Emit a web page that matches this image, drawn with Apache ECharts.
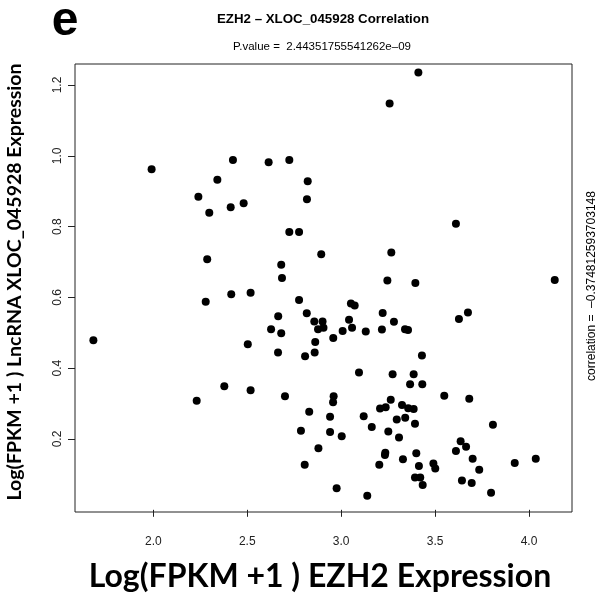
<!DOCTYPE html>
<html>
<head>
<meta charset="utf-8">
<script src="https://cdn.jsdelivr.net/npm/echarts@6/dist/echarts.min.js"></script>
<style>
html,body{margin:0;padding:0;background:#fff;}
#chart{width:606px;height:596px;}
</style>
</head>
<body>
<div id="chart"></div>
<script>
// EZH2 expression (x) and XLOC_045928 expression (y)
const ezh2 = [
  1.991, 2.424, 2.614, 2.724, 2.341, 2.822, 2.240, 2.818, 2.412, 2.481,
  2.298, 2.724, 2.776, 2.894, 2.287, 2.681, 2.685, 3.411, 3.258, 3.611,
  3.267, 3.246, 3.395, 4.137, 2.279, 2.415, 2.518, 2.776, 2.665, 2.817,
  2.857, 2.901, 2.627, 2.681, 2.877, 2.906, 1.681, 2.503, 2.862, 2.664,
  2.808, 2.859, 2.378, 2.518, 2.231, 2.701, 2.830, 2.941, 2.786, 2.941,
  2.879, 2.806, 3.052, 3.072, 3.221, 3.675, 3.627, 3.042, 3.058, 3.008,
  3.131, 3.217, 3.281, 3.340, 3.356, 2.958, 3.430, 3.095, 3.274, 3.386,
  3.367, 3.432, 3.549, 3.682, 2.960, 2.957, 3.264, 3.207, 3.237, 3.324,
  3.357, 3.386, 3.120, 3.296, 3.341, 3.393, 3.808, 3.163, 3.251, 3.003,
  3.308, 3.636, 3.665, 3.611, 3.700, 3.235, 3.233, 3.400, 3.329, 3.203,
  3.414, 3.491, 3.501, 3.735, 3.924, 4.036, 3.393, 3.421, 3.434, 3.643,
  3.695, 3.798, 2.976, 3.139
];
const xloc = [
  0.962, 0.988, 0.982, 0.988, 0.932, 0.928, 0.884, 0.877, 0.855, 0.866,
  0.839, 0.785, 0.785, 0.722, 0.708, 0.692, 0.655, 1.235, 1.148, 0.808,
  0.727, 0.648, 0.641, 0.649, 0.588, 0.609, 0.613, 0.593, 0.547, 0.555,
  0.532, 0.532, 0.510, 0.499, 0.510, 0.514, 0.479, 0.468, 0.474, 0.444,
  0.434, 0.444, 0.349, 0.338, 0.308, 0.321, 0.277, 0.263, 0.223, 0.220,
  0.174, 0.127, 0.583, 0.577, 0.556, 0.557, 0.539, 0.537, 0.514, 0.505,
  0.504, 0.509, 0.531, 0.510, 0.508, 0.485, 0.436, 0.388, 0.383, 0.383,
  0.355, 0.355, 0.322, 0.314, 0.321, 0.304, 0.311, 0.286, 0.290, 0.296,
  0.287, 0.285, 0.264, 0.255, 0.260, 0.243, 0.240, 0.234, 0.221, 0.208,
  0.204, 0.194, 0.178, 0.166, 0.144, 0.161, 0.155, 0.160, 0.143, 0.127,
  0.124, 0.131, 0.117, 0.113, 0.132, 0.144, 0.091, 0.091, 0.070, 0.083,
  0.076, 0.048, 0.061, 0.040
];
const xTicks = [2.0, 2.5, 3.0, 3.5, 4.0];
const yTicks = [0.2, 0.4, 0.6, 0.8, 1.0, 1.2];

const titleText = 'EZH2 \u2013 XLOC_045928 Correlation';
const pText = 'P.value =  2.44351755541262e\u201309';
const corText = 'correlation =  \u20130.374812593703148';
const xName = 'Log(FPKM +1 ) EZH2 Expression';
const yName = 'Log(FPKM +1 ) LncRNA XLOC_045928 Expression';
const panel = 'e';

const points = ezh2.map((v, i) => [v, xloc[i]]);

const chart = echarts.init(document.getElementById('chart'), null, {renderer: 'canvas'});
const tickFont = {fontFamily: 'Liberation Sans', fontSize: 12, color: '#222'};
chart.setOption({
  animation: false,
  backgroundColor: '#fff',
  grid: {left: 75, right: 34, top: 64, bottom: 84, show: true, borderColor: '#222', borderWidth: 1, backgroundColor: 'transparent'},
  xAxis: {
    type: 'value', min: 1.5832, max: 4.2289,
    axisLine: {show: false},
    splitLine: {show: false},
    axisTick: {show: true, customValues: xTicks, length: 7, inside: false, lineStyle: {color: '#222'}},
    axisLabel: {show: true, customValues: xTicks, margin: 24, formatter: v => v.toFixed(1), ...tickFont}
  },
  yAxis: {
    type: 'value', min: -0.0062, max: 1.2593,
    axisLine: {show: false},
    splitLine: {show: false},
    axisTick: {show: true, customValues: yTicks, length: 7, inside: false, lineStyle: {color: '#222'}},
    axisLabel: {show: true, customValues: yTicks, rotate: 90, margin: 11, formatter: v => v.toFixed(1), ...tickFont}
  },
  series: [{
    type: 'scatter',
    data: points,
    symbol: 'circle',
    symbolSize: 8,
    itemStyle: {color: '#000', opacity: 1}
  }],
  graphic: [
    {type: 'text', x: 65, y: 22, style: {text: panel, font: 'bold 48px "Liberation Sans"', fill: '#000', textAlign: 'center', textVerticalAlign: 'middle'}},
    {type: 'text', x: 323, y: 19, style: {text: titleText, font: 'bold 13.3px "Liberation Sans"', fill: '#000', textAlign: 'center', textVerticalAlign: 'middle'}},
    {type: 'text', x: 322, y: 47, style: {text: pText, font: '11.5px "Liberation Sans"', fill: '#000', textAlign: 'center', textVerticalAlign: 'middle'}},
    {type: 'text', x: 592, y: 286, rotation: Math.PI / 2, style: {text: corText, font: '12px "Liberation Sans"', fill: '#000', textAlign: 'center', textVerticalAlign: 'middle'}},
    {type: 'text', x: 320, y: 577, style: {text: xName, font: 'bold 32px Lato', fill: '#000', textAlign: 'center', textVerticalAlign: 'middle'}},
    {type: 'text', x: 15, y: 282, rotation: Math.PI / 2, style: {text: yName, font: 'bold 19.5px Lato', fill: '#000', textAlign: 'center', textVerticalAlign: 'middle'}}
  ]
});
</script>
</body>
</html>
